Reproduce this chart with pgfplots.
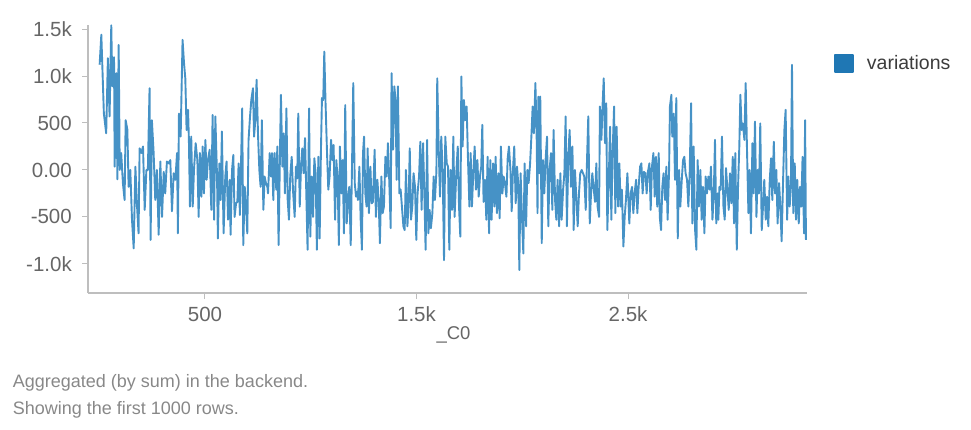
\documentclass[border=0pt]{standalone}
\usepackage{fontspec}
\setmainfont{Liberation Sans}
\usepackage{pgfplots}
\pgfplotsset{compat=1.18}
\usepackage{pgfplotstable}
\definecolor{linec}{RGB}{70,146,198}
\definecolor{legsq}{RGB}{31,119,180}
\definecolor{tickc}{RGB}{102,102,102}
\definecolor{axc}{RGB}{190,190,190}
\definecolor{notec}{RGB}{136,136,136}
\definecolor{legc}{RGB}{60,60,60}
\pgfplotstableread{
x y
2 1120
10 1440
22 600
33 390
41 1190
49 570
57 1540
62 890
70 1200
73 35
81 1030
86 -100
92 1330
97 0
104 180
112 -140
120 -320
125 530
133 430
139 -180
147 0
155 -530
163 -835
171 35
179 -390
186 -675
191 230
199 180
207 250
215 -425
223 0
230 0
238 870
243 -745
249 530
257 195
265 -320
273 0
281 -690
289 90
297 -500
305 -20
312 -250
320 90
328 70
336 105
344 -440
352 -35
360 -105
368 180
372 -675
377 600
385 355
394 1385
401 1135
407 975
413 425
420 640
424 320
429 -390
435 355
442 -390
448 0
456 285
464 105
470 -500
476 180
483 -285
489 250
495 -250
502 320
508 -105
514 105
522 215
530 -425
536 585
543 -530
549 570
557 -70
561 -730
568 70
574 -320
580 410
588 -675
596 -70
602 90
609 -530
617 -105
621 -690
628 0
634 160
640 -500
647 -355
653 -340
659 70
665 -480
672 230
676 655
681 -800
688 -180
694 -390
700 -675
706 320
713 570
719 745
727 870
732 355
738 530
744 960
751 355
757 0
763 -180
769 530
776 -425
782 -70
788 -140
795 -180
798 -250
806 180
812 -70
817 180
823 -320
829 180
837 -210
842 250
848 -800
855 250
859 800
866 35
872 390
878 -250
885 655
891 -320
897 -530
903 -70
910 140
916 -210
924 -500
930 35
936 -90
941 600
948 -390
954 35
960 230
966 -35
973 340
979 -250
985 -850
992 655
998 -710
1004 -70
1011 -500
1017 125
1023 -35
1029 -850
1036 140
1042 -730
1048 180
1053 765
1059 745
1064 1260
1070 710
1077 180
1083 -210
1089 -70
1096 320
1102 105
1108 265
1115 -530
1121 105
1127 -105
1133 -800
1138 250
1145 -250
1151 105
1157 -675
1163 690
1170 -570
1176 -340
1182 -180
1189 -800
1195 35
1201 925
1208 -140
1214 -285
1220 -230
1223 -320
1230 35
1236 -530
1242 -850
1247 180
1252 355
1258 -250
1264 -390
1269 230
1275 -460
1282 35
1288 -355
1294 -340
1302 215
1308 -500
1315 -105
1321 -320
1327 -780
1334 -70
1340 -460
1346 -390
1353 140
1359 -70
1365 285
1371 -105
1378 -620
1382 1030
1389 215
1395 890
1401 745
1406 -105
1412 890
1419 -250
1425 -210
1431 -390
1438 -600
1444 -640
1450 0
1457 -600
1463 -320
1468 230
1474 -530
1480 -390
1486 -35
1493 -180
1499 -745
1505 -250
1512 -70
1518 300
1524 -425
1531 285
1537 -250
1543 -850
1550 320
1556 -675
1562 -425
1568 -620
1575 -460
1581 -70
1587 -320
1594 -20
1598 975
1605 215
1611 -285
1617 355
1624 -35
1630 -960
1636 355
1643 70
1649 35
1655 -850
1661 0
1668 -425
1674 355
1680 -500
1688 -35
1695 250
1701 -390
1707 -710
1712 995
1718 250
1724 745
1731 530
1737 675
1743 140
1750 -390
1756 180
1762 -390
1769 0
1775 250
1781 -210
1788 105
1794 -285
1800 -70
1806 35
1811 480
1817 -340
1824 -105
1830 -530
1836 140
1843 -675
1849 105
1855 -530
1862 70
1868 -390
1874 140
1880 -460
1887 -35
1893 -515
1899 250
1906 -250
1912 -70
1918 -140
1925 -285
1931 125
1937 250
1944 0
1950 -440
1956 0
1962 250
1969 -355
1975 35
1981 -140
1986 -1065
1992 -35
1999 -530
2005 -890
2011 70
2018 -600
2024 0
2030 -140
2037 70
2043 355
2049 675
2055 390
2062 925
2068 355
2072 -460
2076 780
2081 -35
2085 780
2092 -780
2098 105
2104 -250
2111 140
2117 355
2123 -600
2129 0
2136 180
2142 -425
2148 425
2155 -320
2161 -530
2167 -105
2174 -600
2180 -35
2186 -530
2193 -210
2199 -35
2205 570
2211 -600
2218 180
2224 425
2230 -180
2237 250
2243 -640
2249 0
2256 -320
2262 -600
2268 -250
2274 -35
2281 0
2287 -35
2293 -70
2300 -425
2306 105
2312 570
2319 -570
2325 -250
2331 -35
2338 -210
2344 -340
2350 70
2356 -390
2363 -500
2367 675
2374 320
2380 710
2385 975
2391 285
2397 710
2402 -640
2408 -180
2415 460
2421 -530
2427 180
2434 675
2440 -460
2446 460
2453 -390
2459 70
2465 -390
2471 -210
2478 -815
2484 -500
2490 -320
2497 -35
2506 -570
2512 -250
2519 -180
2525 -460
2531 -250
2538 -105
2544 -460
2550 -180
2557 35
2563 70
2569 -250
2575 -20
2582 -35
2588 -250
2594 -20
2601 70
2607 -425
2613 35
2620 180
2626 -285
2632 140
2638 -390
2645 180
2650 -500
2656 -640
2662 -180
2668 -35
2675 -320
2681 35
2687 -530
2694 0
2698 675
2705 800
2709 355
2716 600
2722 -105
2728 765
2735 -730
2741 0
2747 -390
2754 -105
2760 105
2766 140
2772 -35
2779 -105
2785 -390
2791 -70
2798 710
2804 -570
2810 250
2817 -640
2823 -850
2829 105
2835 -390
2842 0
2848 -530
2854 -180
2861 -675
2867 -70
2873 -250
2880 -70
2886 -210
2892 35
2899 -530
2905 -285
2911 320
2917 -570
2924 -250
2927 -530
2932 -180
2938 -210
2944 355
2951 -390
2957 -530
2963 20
2969 -180
2976 -425
2982 -35
2988 -355
2995 140
3001 -570
3007 180
3014 -850
3020 -180
3026 250
3031 800
3037 425
3043 495
3050 320
3056 925
3062 250
3069 -460
3075 0
3081 -675
3088 285
3094 -250
3100 515
3107 -500
3113 0
3119 -250
3125 495
3132 -640
3138 -390
3144 -105
3151 -530
3157 -285
3163 -600
3170 -105
3176 125
3182 -320
3189 300
3195 -250
3201 0
3207 -570
3214 -140
3220 -390
3226 -760
3233 -105
3239 425
3245 640
3252 -530
3258 -70
3264 -390
3270 -180
3275 1120
3281 -460
3288 70
3294 -530
3300 -105
3307 -570
3313 -180
3319 -390
3325 140
3332 -675
3337 530
3341 -745
}\datatable
\begin{document}
\begin{tikzpicture}[x=1pt,y=1pt]
\path[use as bounding box] (0,0) rectangle (971,429);
\begin{axis}[
  at={(88pt,136pt)}, anchor=south west,
  scale only axis, width=719pt, height=268pt,
  xmin=-53, xmax=3346, ymin=-1310, ymax=1543,
  axis lines=left,
  axis line style={-, draw=axc, line width=1.2pt},
  tick align=outside, major tick length=6pt,
  tick style={draw=axc, line width=1pt},
  xtick={500,1500,2500}, xticklabels={500,1.5k,2.5k},
  ytick={-1000,-500,0,500,1000,1500},
  yticklabels={-1.0k,-500,0.00,500,1.0k,1.5k},
  /pgf/number format/assume math mode=true,
  ticklabel style={font=\fontsize{20.5}{23}\selectfont, text=tickc, inner sep=0pt},
  xticklabel style={anchor=north, yshift=-7.5pt},
  yticklabel style={anchor=east, xshift=-10pt},
  xlabel={\_C0},
  xlabel style={font=\fontsize{18.5}{21}\selectfont, text=tickc, inner sep=0pt,
    at={(axis description cs:0.5,0)}, anchor=north, yshift=-33pt, xshift=6pt},
  legend style={at={(axis description cs:1.0376,0.856)}, anchor=west,
    draw=none, fill=none, inner sep=0pt, outer sep=0pt,
    nodes={inner sep=0pt, text=legc},
    font=\fontsize{19.5}{22}\selectfont},
  legend image code/.code={\fill[legsq] (0pt,-8.5pt) rectangle (18pt,8.5pt); \path (31pt,0pt);},
]
\addplot[linec, line width=1.9pt, line join=round, mark=none] table[x=x,y=y] {\datatable};
\addlegendentry{variations}
\end{axis}
\node[anchor=base west, inner sep=0pt, text=notec, font=\fontsize{18}{21}\selectfont] at (12.7,42) {Aggregated (by sum) in the backend.};
\node[anchor=base west, inner sep=0pt, text=notec, font=\fontsize{18}{21}\selectfont] at (12.7,14.5) {Showing the first 1000 rows.};
\end{tikzpicture}
\end{document}
